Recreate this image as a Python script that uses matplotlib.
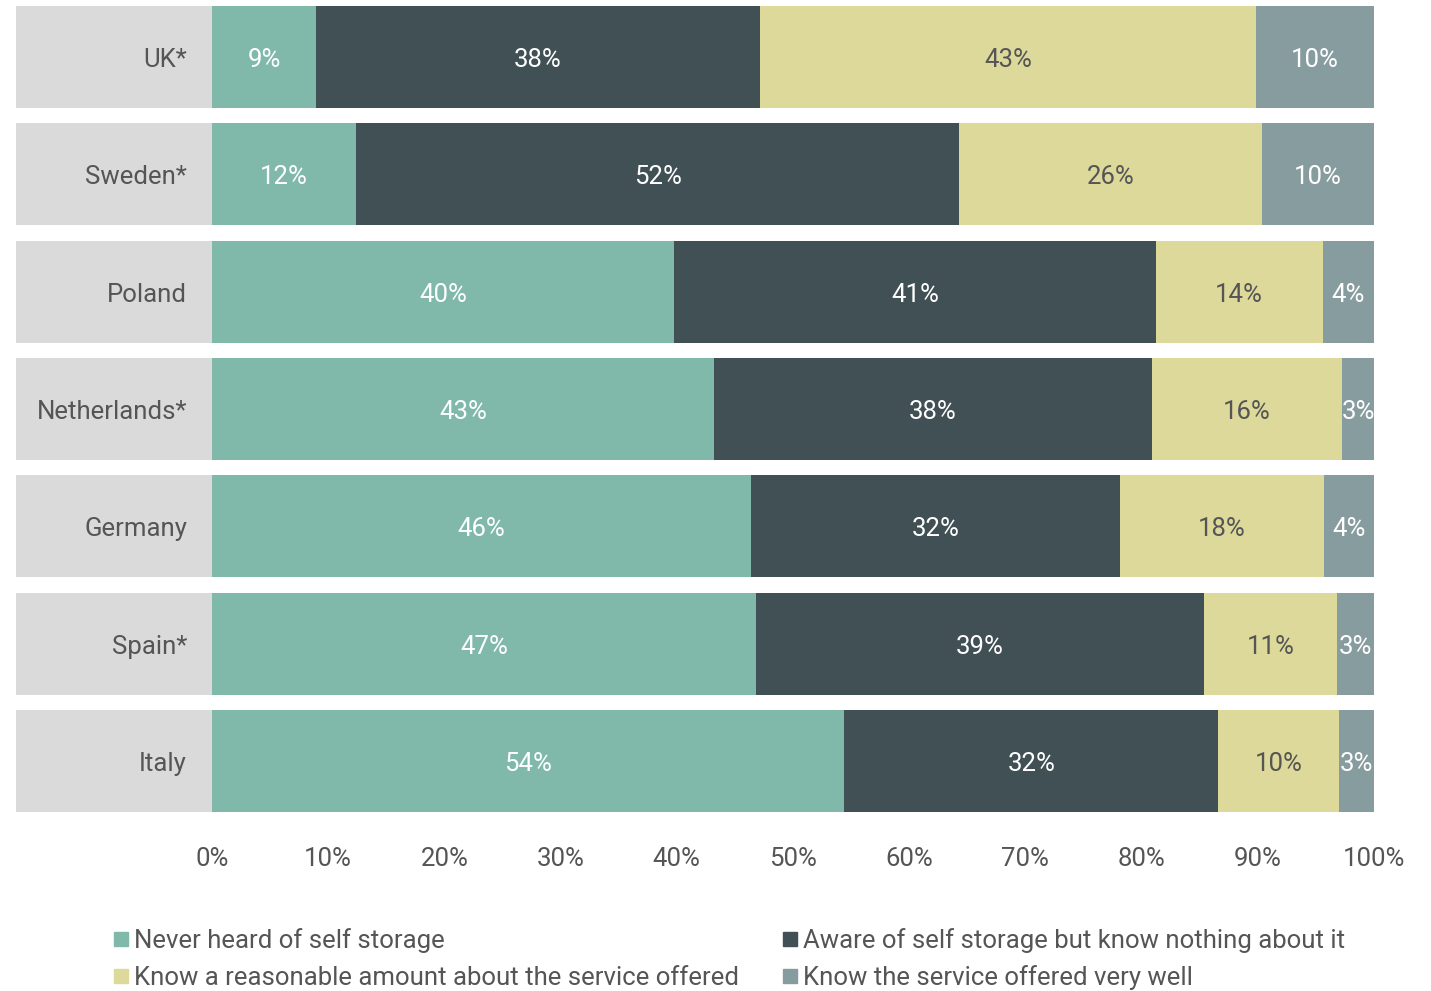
import matplotlib
matplotlib.use('Agg')
import matplotlib.pyplot as plt
from matplotlib.patches import Rectangle

plt.rcParams['font.family'] = ['Roboto', 'DejaVu Sans']

countries = ['UK*', 'Sweden*', 'Poland', 'Netherlands*', 'Germany', 'Spain*', 'Italy']
never_heard = [8.95, 12.4, 39.8, 43.2, 46.4, 46.8, 54.4]
aware_nothing = [38.2, 51.9, 41.4, 37.7, 31.7, 38.6, 32.2]
know_reasonable = [42.7, 26.1, 14.4, 16.35, 17.6, 11.4, 10.4]
know_well = [10.15, 9.6, 4.4, 2.75, 4.3, 3.2, 3.0]

series_names = ['Never heard of self storage',
                'Aware of self storage but know nothing about it',
                'Know a reasonable amount about the service offered',
                'Know the service offered very well']
colors = ['#80b9aa', '#415055', '#dcd99b', '#879c9f']
text_colors = ['white', 'white', '#555555', 'white']
tick_values = [0, 10, 20, 30, 40, 50, 60, 70, 80, 90, 100]

FS = 18.5
W, H = 1431, 991
fig = plt.figure(figsize=(W / 100, H / 100), dpi=100)
# axes spans from left edge of grey label boxes to the 100% mark
ax = fig.add_axes([16 / W, 1 - 812 / H, (1374 - 16) / W, (812 - 6) / H])

px_per_pct = (1374 - 212) / 100
label_w = (212 - 16) / px_per_pct
bar_h = 0.87
ypos = list(range(len(countries)))
dy = 0.025  # nudge text down a little

ax.barh(ypos, [label_w] * len(countries), left=-label_w, height=bar_h,
        color='#dadada', linewidth=0)
for i, c in enumerate(countries):
    ax.text(-label_w * 0.128, i + dy, c, ha='right', va='center', fontsize=FS, color='#555555')

data = [never_heard, aware_nothing, know_reasonable, know_well]
left = [0] * len(countries)
for k, vals in enumerate(data):
    ax.barh(ypos, vals, left=left, height=bar_h, color=colors[k], linewidth=0)
    for i, v in enumerate(vals):
        ax.text(left[i] + v / 2, i + dy, f'{round(v)}%', ha='center', va='center',
                fontsize=FS, color=text_colors[k])
    left = [l + v for l, v in zip(left, vals)]

ax.set_xlim(-label_w, 100)
ax.set_ylim(len(countries) - 1 + bar_h / 2, -bar_h / 2)
ax.set_xticks(tick_values)
ax.set_xticklabels([f'{t}%' for t in tick_values])
ax.tick_params(axis='x', length=0, pad=25, labelsize=FS, labelcolor='#555555')
ax.set_yticks([])
for s in ax.spines.values():
    s.set_visible(False)

# legend drawn by hand: two columns, two rows
legend_pos = [(114, 939), (783, 939), (114, 976), (783, 976)]
for k, (x, y) in enumerate(legend_pos):
    fig.patches.append(Rectangle((x / W, 1 - (y + 7) / H), 14 / W, 14 / H,
                                 transform=fig.transFigure, color=colors[k]))
    fig.text((x + 20) / W, 1 - (y + 2) / H, series_names[k], ha='left', va='center',
             fontsize=FS, color='#555555')

fig.savefig('out.png', dpi=100)
